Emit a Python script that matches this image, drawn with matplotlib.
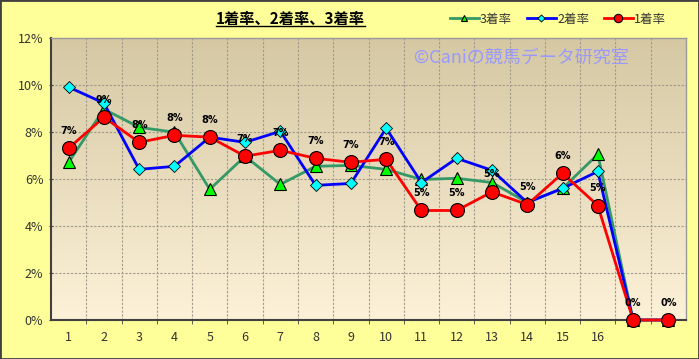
import numpy as np
import matplotlib.pyplot as plt
from matplotlib.lines import Line2D

plt.rcParams['font.family'] = ['Noto Sans CJK JP', 'DejaVu Sans']

# categories (17 and 18 have no label)
labels = ["1", "2", "3", "4", "5", "6", "7", "8", "9", "10",
          "11", "12", "13", "14", "15", "16", "", ""]

# rates in %
rate1 = [7.31, 8.63, 7.56, 7.86, 7.78, 6.97, 7.22, 6.88, 6.71, 6.84,
         4.66, 4.66, 5.45, 4.91, 6.24, 4.87, 0.0, 0.0]
rate2 = [9.91, 9.23, 6.41, 6.54, 7.78, 7.56, 8.03, 5.73, 5.81, 8.16,
         5.85, 6.88, 6.37, 5.00, 5.60, 6.32, 0.0, 0.0]
rate3 = [6.71, 8.97, 8.20, 7.99, 5.56, 6.97, 5.77, 6.54, 6.58, 6.41,
         5.98, 6.03, 5.85, 5.00, 5.60, 7.05, 0.0, 0.0]

fig = plt.figure(figsize=(6.99, 3.59), dpi=100, facecolor="#FFFF99")
ax = fig.add_axes([51/699, 1-320/359, 635/699, 282/359])

x = np.arange(len(labels))

# gradient background of plot area (tan at top, cream at bottom)
grad = np.linspace(0, 1, 256).reshape(-1, 1)
top = np.array([0.835, 0.784, 0.639])
bot = np.array([0.992, 0.945, 0.847])
img = top + (bot - top) * grad[:, :, None]
ax.imshow(img, extent=[-0.5, 17.5, 0, 12], origin="upper", aspect="auto", zorder=0)

ax.set_xlim(-0.5, 17.5)
ax.set_ylim(0, 12)

# grid
for b in np.arange(0.5, 17.5, 1):
    ax.axvline(b, color="#a09a8a", lw=0.8, ls=(0, (2, 1.5)), zorder=1)
for yv in range(2, 12, 2):
    ax.axhline(yv, color="#a09a8a", lw=0.8, ls=(0, (2, 1.5)), zorder=1)

ax.plot(x, rate3, color="#339966", lw=2, marker="^", ms=8, clip_on=False,
        mfc="#00FF00", mec="black", mew=0.8, zorder=3, label="3着率")
ax.plot(x, rate2, color="#0000FF", lw=2, marker="D", ms=6, clip_on=False,
        mfc="#00FFFF", mec="black", mew=0.6, zorder=4, label="2着率")
ax.plot(x, rate1, color="#FF0000", lw=2, marker="o", ms=10, clip_on=False,
        mfc="#FF0000", mec="black", mew=0.8, zorder=5, label="1着率")

for xi, v in zip(x, rate1):
    ax.annotate("%d%%" % round(v), (xi, v), xytext=(0, 9), textcoords="offset points",
                ha="center", va="bottom", fontsize=7, fontweight="bold",
                family="DejaVu Sans", color="black", zorder=6)

ax.set_xticks(x)
ax.set_xticklabels(labels)
ax.set_xticks(np.arange(0.5, 17.5, 1), minor=True)
ax.set_yticks(range(0, 13, 2))
ax.set_yticklabels(["%d%%" % v for v in range(0, 13, 2)])
ax.tick_params(axis="x", which="major", length=0, pad=8, labelsize=9, colors="#333333")
ax.tick_params(axis="x", which="minor", length=3, direction="out", color="#444444")
ax.tick_params(axis="y", length=3, direction="inout", pad=4, labelsize=9, labelcolor="#333333", color="#444444")

for s in ["left", "bottom"]:
    ax.spines[s].set_color("#404040")
    ax.spines[s].set_linewidth(1.5)
for s in ["top", "right"]:
    ax.spines[s].set_color("#999999")
    ax.spines[s].set_linewidth(1)

# watermark
ax.text(0.74, 0.93, "©Caniの競馬データ研究室", transform=ax.transAxes,
        ha="center", va="center", fontsize=13, color="#9999FF", zorder=2)

# title with underline
t = fig.text(290/699, 1-19/359, "1着率、2着率、3着率", ha="center", va="center",
             fontsize=11, fontweight="bold", color="black")
fig.canvas.draw()
bb = t.get_window_extent().transformed(fig.transFigure.inverted())
fig.add_artist(Line2D([bb.x0, bb.x1], [bb.y0 + 0.002, bb.y0 + 0.002],
                      transform=fig.transFigure, color="black", lw=1))

leg = fig.legend(loc="center", bbox_to_anchor=(558/699, 1-19/359), ncol=3,
                 frameon=False, fontsize=9, handlelength=2.3, handletextpad=0.1,
                 columnspacing=1.2, markerscale=0.6)
for txt in leg.get_texts():
    txt.set_color("#333333")

# figure border
fig.add_artist(plt.Rectangle((0, 0), 1, 1, transform=fig.transFigure, fill=False,
                             ec="#404040", lw=2))

fig.savefig("out.png", dpi=100, facecolor=fig.get_facecolor())
